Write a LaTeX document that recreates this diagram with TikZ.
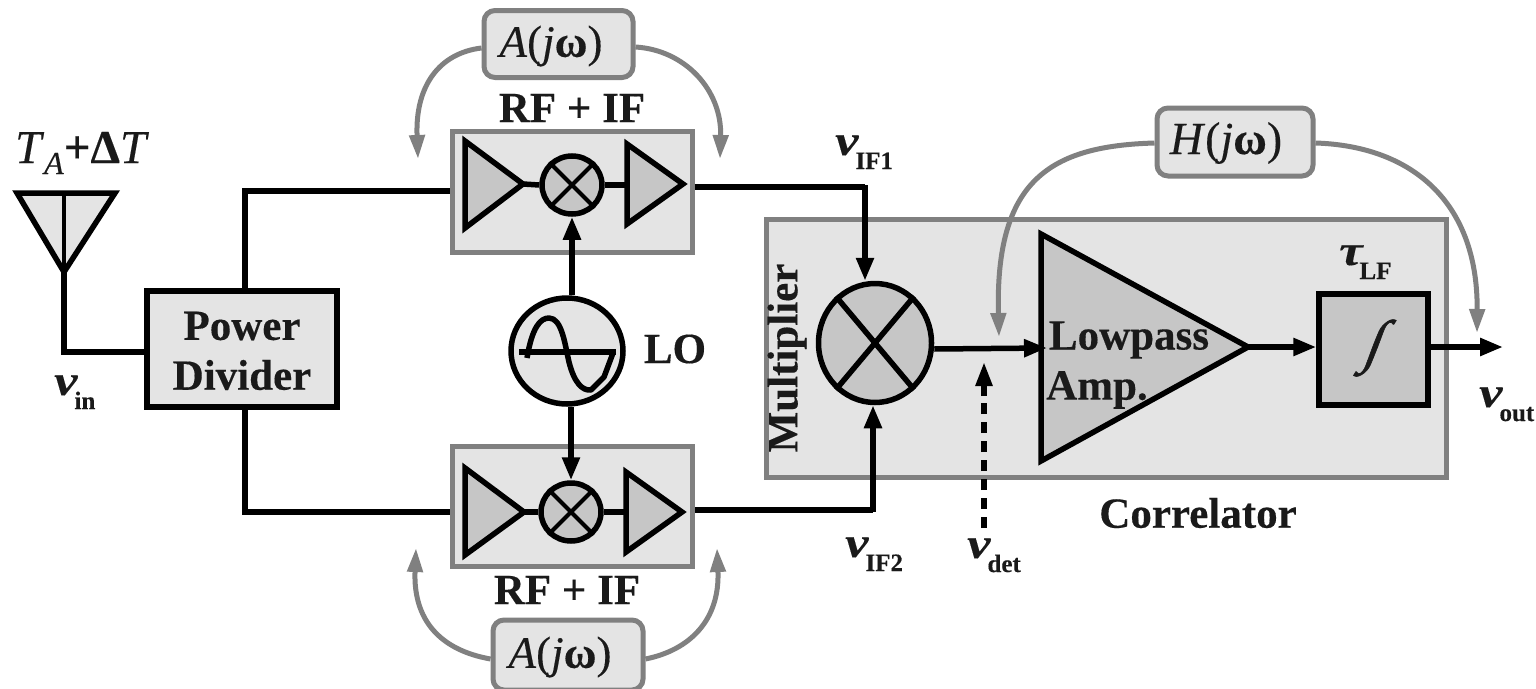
\documentclass[tikz,border=0pt]{standalone}
\usepackage{fontspec}
\setmainfont[FakeBold=0.3]{Liberation Serif}
\newfontfamily\widefont[FakeStretch=1.22,FakeBold=0.3]{Liberation Serif}
\newfontfamily\slantfont[FakeSlant=0.38,FakeBold=1]{Liberation Serif}
\usetikzlibrary{shapes.geometric,arrows.meta}
\definecolor{panel}{HTML}{E4E4E4}
\definecolor{edgegray}{HTML}{808080}
\definecolor{tone}{HTML}{C6C6C6}
\definecolor{inkk}{HTML}{1A1A1A}
\newcommand{\fsz}[1]{\fontsize{#1}{#1}\selectfont}
\newcommand{\lbl}[2]{{\widefont\bfseries\itshape #1}\kern-3pt{\fsz{25}\raisebox{-14pt}{\bfseries #2}}}
\tikzset{
  x=1pt,y=-1pt,
  sig/.style={draw=black,line width=5.5pt,line cap=butt},
  sigarrow/.style={sig,-{Triangle[length=23pt,width=17pt]}},
  fbarrow/.style={draw=edgegray,line width=5pt,-{Triangle[length=24pt,width=15pt]}},
  panelbox/.style={rectangle,draw=edgegray,fill=panel,line width=5pt,inner sep=0pt},
  blackbox/.style={rectangle,draw=black,fill=panel,line width=5.5pt,inner sep=0pt},
  gainbox/.style={rectangle,rounded corners=11pt,draw=edgegray,fill=panel,line width=5pt,inner sep=0pt},
  amp/.style={draw=black,fill=tone,line width=5.5pt,line join=miter},
  mix/.style={ellipse,draw=black,fill=tone,line width=5.5pt,inner sep=0pt},
  txt/.style={inner sep=0pt,text=inkk,font=\bfseries\fsz{43}},
}
\begin{document}
\begin{tikzpicture}
\useasboundingbox (0,0) rectangle (1536,688);
\fill[white] (0,0) rectangle (1536,688);
% panels
\node[panelbox,minimum width=680pt,minimum height=258pt] (corr) at (1106,348) {};
\node[panelbox,minimum width=240pt,minimum height=121pt] (rf1) at (572,191.5) {};
\node[panelbox,minimum width=240pt,minimum height=120pt] (rf2) at (572.5,506) {};
% antenna
\coordinate (antl) at (17,193); \coordinate (antr) at (115,193); \coordinate (antt) at (64,193); \coordinate (antb) at (64,272);
\draw[line width=5.5pt,draw=black,fill=panel,line join=miter] (antl) -- (antr) -- (antb) -- cycle;
% power divider
\node[blackbox,minimum width=190pt,minimum height=116pt] (pd) at (242,349) {};
\coordinate (pdt) at (245,290); \coordinate (pdb) at (245,408);
\draw[line width=4pt] (antt) -- (antb);
\draw[sig] (antb) -- (64,352) -- (pd.west |- 64,352);
\draw[sig] (pdt) -- (245,191) -- (rf1.west |- 245,191);
\draw[sig] (pdb) -- (245,512) -- (rf2.west |- 245,512);
% top chain
\coordinate (a1a) at (465,141); \coordinate (a1b) at (465,228); \coordinate (a1c) at (523,184);
\coordinate (a2a) at (627,144); \coordinate (a2b) at (627,224); \coordinate (a2c) at (683,184);
\node[mix,minimum width=60pt,minimum height=58pt] (m1) at (572,185) {};
\draw[sig] (a1c) -- (m1.west);
\draw[sig] (m1.east) -- (a2a |- m1.east);
\draw[amp] (a1a) -- (a1c) -- (a1b) -- cycle;
\draw[amp] (a2a) -- (a2c) -- (a2b) -- cycle;
\draw[line width=4pt] (m1.45) -- (m1.225) (m1.135) -- (m1.315);
% bottom chain
\coordinate (b1a) at (465,468); \coordinate (b1b) at (465,555); \coordinate (b1c) at (524,512);
\coordinate (b2a) at (626,472); \coordinate (b2b) at (626,552); \coordinate (b2c) at (682,512);
\node[mix,minimum width=60pt,minimum height=58pt] (m2) at (571,512) {};
\draw[sig] (b1c) -- (m2.west);
\draw[sig] (m2.east) -- (b2a |- m2.east);
\draw[amp] (b1a) -- (b1c) -- (b1b) -- cycle;
\draw[amp] (b2a) -- (b2c) -- (b2b) -- cycle;
\draw[line width=4pt] (m2.45) -- (m2.225) (m2.135) -- (m2.315);
% LO
\node[ellipse,draw=black,fill=panel,line width=5.5pt,minimum width=112pt,minimum height=106pt,inner sep=0pt] (lo) at (567,351) {};
\draw[line width=6pt] (519,352) -- (616,352);
\draw[line width=5.5pt,line join=round] (527,358) .. controls (532,328) and (540,318) .. (549,318) .. controls (562,318) and (565,345) .. (569,362) .. controls (574,382) and (582,391) .. (591,390) -- (604,377) -- (613,353);
\draw[sigarrow] (lo.north -| m1.south) -- (m1.south);
\draw[sigarrow] (lo.south -| m2.north) -- (m2.north);
\node[txt] (lolbl) at (675,349) {LO};
% multiplier
\node[mix,minimum width=113pt,minimum height=119pt] (mm) at (875,343) {};
\draw[line width=5.5pt] (mm.50) -- (mm.230) (mm.130) -- (mm.310);
% lowpass
\coordinate (lpa) at (1041,234); \coordinate (lpb) at (1041,461); \coordinate (lpc) at (1248,347);
\draw[amp] (lpa) -- (lpc) -- (lpb) -- cycle;
\coordinate (lpin) at (1047,348);
% integrator
\node[blackbox,fill=tone,minimum width=109pt,minimum height=111pt] (intg) at (1373.5,349.5) {};
\node[inner sep=0pt,text=inkk,font=\slantfont\fsz{58}] (intsym) at (1370,348) {∫};
% connectors
\coordinate (vout) at (1503,347);
\draw[sig] (rf1.east |- 694,187) -- (865,187);
\draw[sigarrow] (865,185) -- (mm.north -| 865,0);
\draw[sig] (rf2.east |- 694,510) -- (873,510);
\draw[sigarrow] (873,512) -- (mm.south -| 873,0);
\draw[sigarrow] (mm.east |- 0,349) -- (lpin);
\draw[sigarrow] (lpc) -- (intg.west |- lpc);
\draw[sigarrow] (intg.east |- vout) -- (vout);
\coordinate (dettail) at (984,528); \coordinate (dettip) at (984,362);
\draw[line width=5.5pt,dash pattern=on 11pt off 8pt,draw=black] (dettail) -- (984,392);
\draw[-{Triangle[length=24pt,width=16pt]},line width=5.5pt] (984,396) -- (dettip);
% gain boxes
\node[gainbox,minimum width=149pt,minimum height=67pt] (atop) at (558.5,44) {};
\node[gainbox,minimum width=150pt,minimum height=70pt] (abot) at (568,655) {};
\node[gainbox,minimum width=156pt,minimum height=68pt] (hbox) at (1235,142) {};
\draw[fbarrow] (atop.west |- 0,48) .. controls (440,53) and (415,85) .. (418,159);
\draw[fbarrow] (atop.east |- 0,47) .. controls (685,50) and (722,90) .. (720,159);
\draw[fbarrow] (abot.west |- 0,659) .. controls (440,650) and (413,620) .. (416,548);
\draw[fbarrow] (abot.east |- 0,659) .. controls (690,650) and (720,620) .. (717,548);
\draw[fbarrow] (hbox.west |- 0,143) .. controls (1050,146) and (995,180) .. (999,337);
\draw[fbarrow] (hbox.east |- 0,143) .. controls (1410,146) and (1478,200) .. (1477,333);
% texts
\node[inner sep=0pt,text=inkk,font=\fsz{45}] (atxt) at (551,46) {\textit{A}(\textit{j}\textbf{ω})};
\node[inner sep=0pt,text=inkk,font=\fsz{45}] (btxt) at (560,657) {\textit{A}(\textit{j}\textbf{ω})};
\node[inner sep=0pt,text=inkk,font=\fsz{46}] (htxt) at (1226,143) {\textit{H}(\textit{j}\textbf{ω})};
\node[txt] (rft) at (572,108) {RF + IF};
\node[txt] (rfb) at (567,590) {RF + IF};
\node[txt] (pw) at (242,326) {Power};
\node[txt] (dv) at (242,375) {Divider};
\node[txt,font=\fsz{47},anchor=base west] (ta) at (15,163) {\textit{T}{\fsz{32}\raisebox{-11pt}{\textit{A}}}\textbf{+Δ}\textit{T}};
\node[txt,rotate=90] (mult) at (787,358) {Multiplier};
\node[txt] (lp1) at (1129,340) {Lowpass};
\node[txt,anchor=west] (lp2) at (1046,390) {Amp.};
\node[txt] (corrl) at (1198,513) {Correlator};
\node[txt,anchor=base west] (vin) at (54,395) {\lbl{v}{in}};
\node[txt,anchor=base west] (vif1) at (835,155) {\lbl{v}{IF1}};
\node[txt,anchor=base west] (vif2) at (845,557) {\lbl{v}{IF2}};
\node[txt,anchor=base west] (vdet) at (967,558) {\lbl{v}{det}};
\node[txt,anchor=base west] (vo) at (1479,407) {\lbl{v}{out}};
\node[txt,anchor=base west] (tau) at (1339,265) {\lbl{τ}{LF}};
\end{tikzpicture}
\end{document}
